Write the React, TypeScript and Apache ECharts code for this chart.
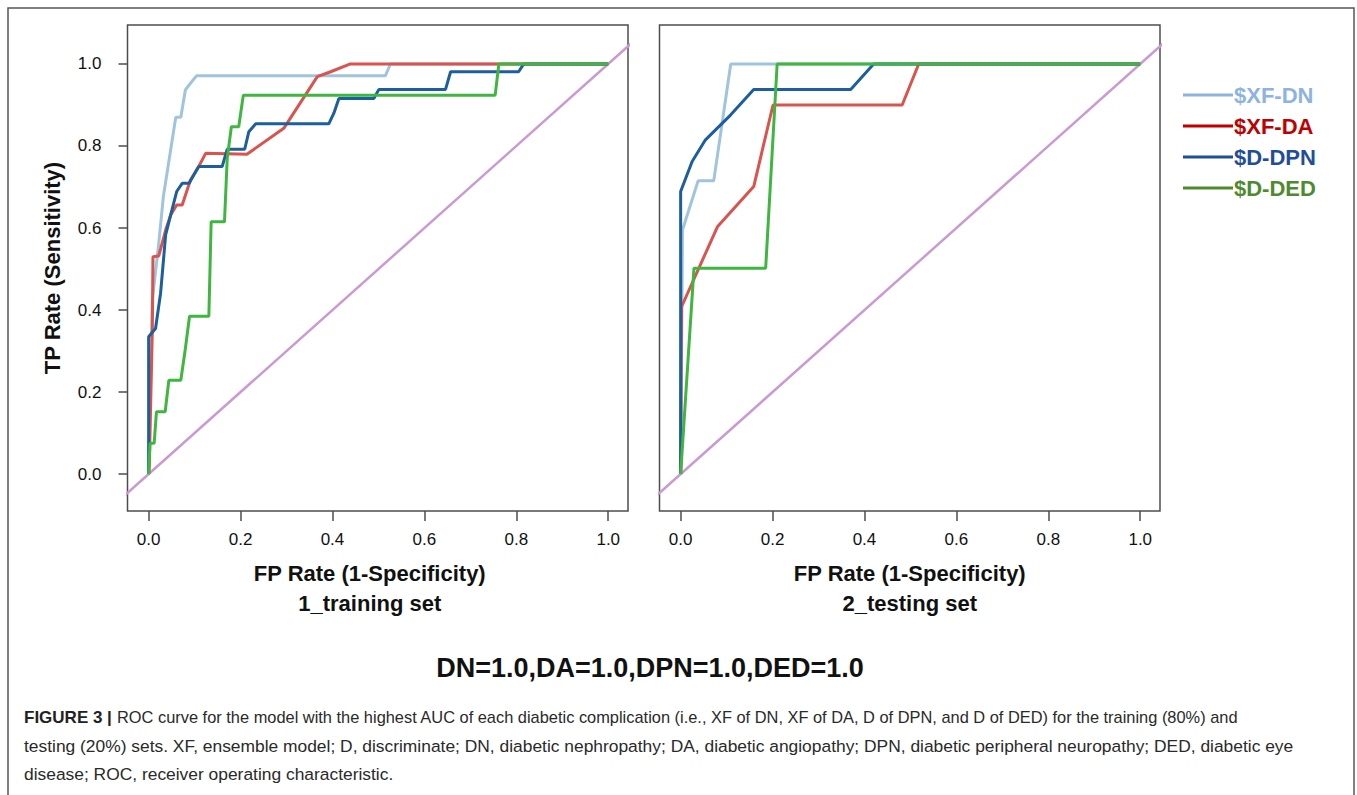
import React, { useEffect, useRef } from "react";
import * as echarts from "echarts";

// ---- Data (FP rate, TP rate) ----
const seriesNames = ["$XF-DN", "$XF-DA", "$D-DPN", "$D-DED"];
const tickValues = [0, 0.2, 0.4, 0.6, 0.8, 1.0];
const diagonal = [[-0.2, -0.2], [1.2, 1.2]];

const trainXF_DN = [[0, 0], [0.008, 0.424], [0.022, 0.563], [0.032, 0.676], [0.059, 0.87], [0.07, 0.87], [0.08, 0.937], [0.091, 0.953], [0.104, 0.971], [0.515, 0.971], [0.526, 1.0], [1, 1]];
const trainXF_DA = [[0, 0], [0.0015, 0.026], [0.008, 0.351], [0.0094, 0.53], [0.022, 0.532], [0.037, 0.595], [0.048, 0.632], [0.061, 0.656], [0.073, 0.656], [0.091, 0.717], [0.109, 0.75], [0.124, 0.782], [0.214, 0.78], [0.294, 0.843], [0.367, 0.969], [0.396, 0.981], [0.439, 1.0], [1, 1]];
const trainD_DPN = [[0, 0], [0, 0.335], [0.015, 0.355], [0.026, 0.441], [0.037, 0.583], [0.048, 0.632], [0.061, 0.689], [0.073, 0.709], [0.088, 0.709], [0.109, 0.75], [0.16, 0.75], [0.171, 0.792], [0.209, 0.792], [0.218, 0.835], [0.233, 0.854], [0.392, 0.854], [0.403, 0.88], [0.414, 0.916], [0.49, 0.916], [0.501, 0.938], [0.646, 0.938], [0.657, 0.981], [0.805, 0.981], [0.816, 1.0], [1, 1]];
const trainD_DED = [[0, 0], [0.003, 0.075], [0.012, 0.075], [0.017, 0.152], [0.036, 0.152], [0.044, 0.229], [0.07, 0.229], [0.08, 0.307], [0.089, 0.385], [0.131, 0.385], [0.136, 0.615], [0.165, 0.615], [0.171, 0.77], [0.18, 0.847], [0.196, 0.847], [0.206, 0.924], [0.754, 0.924], [0.762, 1.0], [1, 1]];

const testXF_DN = [[0, 0], [0.004, 0.595], [0.038, 0.715], [0.072, 0.715], [0.109, 1.0], [1, 1]];
const testXF_DA = [[0, 0], [0.002, 0.408], [0.08, 0.603], [0.159, 0.701], [0.201, 0.9], [0.482, 0.9], [0.518, 1.0], [1, 1]];
const testD_DPN = [[0, 0], [0, 0.689], [0.025, 0.762], [0.054, 0.815], [0.109, 0.876], [0.159, 0.938], [0.37, 0.938], [0.42, 1.0], [1, 1]];
const testD_DED = [[0, 0], [0.029, 0.502], [0.185, 0.502], [0.21, 1.0], [1, 1]];

const curveColors = ["#9fc4dc", "#d9534f", "#1d5f9c", "#3fb63f"];
const legendColors = ["#8db3e2", "#c00000", "#1f4e9a", "#4e8a2e"];
const diagColor = "#c99bd1";

const FONT = "'Liberation Sans', Arial, sans-serif";

const summaryText = "DN=1.0,DA=1.0,DPN=1.0,DED=1.0";
const captionLines = [
  "ROC curve for the model with the highest AUC of each diabetic complication (i.e., XF of DN, XF of DA, D of DPN, and D of DED) for the training (80%) and",
  "testing (20%) sets. XF, ensemble model; D, discriminate; DN, diabetic nephropathy; DA, diabetic angiopathy; DPN, diabetic peripheral neuropathy; DED, diabetic eye",
  "disease; ROC, receiver operating characteristic.",
];

export default function App() {
  const ref = useRef<HTMLDivElement>(null);
  useEffect(() => {
    if (!ref.current) return;
    const chart = echarts.init(ref.current, null, { renderer: "svg" });
    const frameColor = "#4d4d4d";
    const mkX = (gi: number, title: string, pad: number[]) => ({
      type: "value",
      gridIndex: gi,
      min: -0.046,
      max: 1.043,
      axisLine: { show: false, onZero: false },
      splitLine: { show: false },
      axisTick: { show: true, customValues: tickValues, length: 10, lineStyle: { color: frameColor, width: 1.5 } },
      axisLabel: {
        show: true,
        customValues: tickValues,
        margin: 20,
        fontSize: 17,
        color: "#111",
        fontFamily: FONT,
        formatter: (v: number) => v.toFixed(1),
      },
      name: title,
      nameLocation: "middle",
      nameGap: 47,
      nameTextStyle: { fontSize: 22, fontWeight: "bold", color: "#111", fontFamily: FONT, lineHeight: 30, padding: pad },
    });
    const mkY = (gi: number, showLabels: boolean) => ({
      type: "value",
      gridIndex: gi,
      min: -0.09,
      max: 1.095,
      axisLine: { show: false, onZero: false },
      splitLine: { show: false },
      axisTick: { show: showLabels, customValues: tickValues, length: 9, lineStyle: { color: frameColor, width: 1.5 } },
      axisLabel: {
        show: showLabels,
        customValues: tickValues,
        margin: 26,
        fontSize: 17,
        color: "#111",
        fontFamily: FONT,
        formatter: (v: number) => v.toFixed(1),
      },
      name: showLabels ? "TP Rate (Sensitivity)" : "",
      nameLocation: "middle",
      nameGap: 64,
      nameTextStyle: { fontSize: 22, fontWeight: "bold", color: "#111", fontFamily: FONT },
    });
    const curve = (name: string, idx: number, data: number[][], gi: number) => ({
      type: "line",
      name,
      xAxisIndex: gi,
      yAxisIndex: gi,
      data,
      showSymbol: false,
      symbol: "none",
      lineStyle: { color: curveColors[idx], width: 3 },
      itemStyle: { color: legendColors[idx] },
      z: 3 + idx,
      silent: true,
    });
    const diag = (gi: number) => ({
      type: "line",
      name: "diag",
      xAxisIndex: gi,
      yAxisIndex: gi,
      data: diagonal,
      showSymbol: false,
      symbol: "none",
      lineStyle: { color: diagColor, width: 2.5 },
      z: 2,
      silent: true,
    });
    const trainSets = [trainXF_DN, trainXF_DA, trainD_DPN, trainD_DED];
    const testSets = [testXF_DN, testXF_DA, testD_DPN, testD_DED];
    const series: any[] = [diag(0), diag(1)];
    seriesNames.forEach((n, i) => series.push(curve(n, i, trainSets[i], 0)));
    seriesNames.forEach((n, i) => series.push(curve(n, i, testSets[i], 1)));

    const captionY = [717, 746, 774];
    const graphic: any[] = [
      {
        type: "rect",
        shape: { x: 8, y: 8, width: 1346, height: 800 },
        style: { fill: "none", stroke: "#555", lineWidth: 1.5 },
        silent: true,
      },
      {
        type: "text",
        x: 650,
        y: 668,
        style: {
          text: summaryText,
          font: `bold 27px ${FONT}`,
          fill: "#111",
          align: "center",
          verticalAlign: "middle",
        },
      },
      {
        type: "text",
        x: 24,
        y: captionY[0],
        style: { text: "FIGURE 3 |", font: `bold 17px ${FONT}`, fill: "#222", verticalAlign: "middle" },
      },
      {
        type: "text",
        x: 117,
        y: captionY[0],
        style: { text: captionLines[0], font: `16.4px ${FONT}`, fill: "#2a2a2a", verticalAlign: "middle" },
      },
      {
        type: "text",
        x: 24,
        y: captionY[1],
        style: { text: captionLines[1], font: `17.4px ${FONT}`, fill: "#2a2a2a", verticalAlign: "middle" },
      },
      {
        type: "text",
        x: 24,
        y: captionY[2],
        style: { text: captionLines[2], font: `17.4px ${FONT}`, fill: "#2a2a2a", verticalAlign: "middle" },
      },
    ];

    chart.setOption({
      animation: false,
      backgroundColor: "#fff",
      grid: [
        { left: 127.5, top: 25, width: 500.5, height: 486, show: true, borderColor: frameColor, borderWidth: 1.5, backgroundColor: "transparent" },
        { left: 659.5, top: 25, width: 500.5, height: 486, show: true, borderColor: frameColor, borderWidth: 1.5, backgroundColor: "transparent" },
      ],
      xAxis: [mkX(0, "FP Rate (1-Specificity)\n1_training set", [0, 16, 0, 0]), mkX(1, "FP Rate (1-Specificity)\n2_testing set", [0, 0, 0, 0])],
      yAxis: [mkY(0, true), mkY(1, false)],
      legend: {
        orient: "vertical",
        left: 1178,
        top: 79,
        icon: "rect",
        itemWidth: 50,
        itemHeight: 3,
        itemGap: 9,
        selectedMode: false,
        textStyle: { fontSize: 22, fontWeight: "bold", fontFamily: FONT, lineHeight: 22, padding: [0, 0, 0, -4] },
        data: seriesNames.map((n, i) => ({
          name: n,
          itemStyle: { color: legendColors[i] },
          lineStyle: { color: legendColors[i] },
          textStyle: { color: legendColors[i] },
        })),
      },
      graphic,
      series,
    });
    return () => chart.dispose();
  }, []);
  return <div ref={ref} style={{ position: "fixed", left: 0, top: 0, width: 1357, height: 795 }} />;
}
